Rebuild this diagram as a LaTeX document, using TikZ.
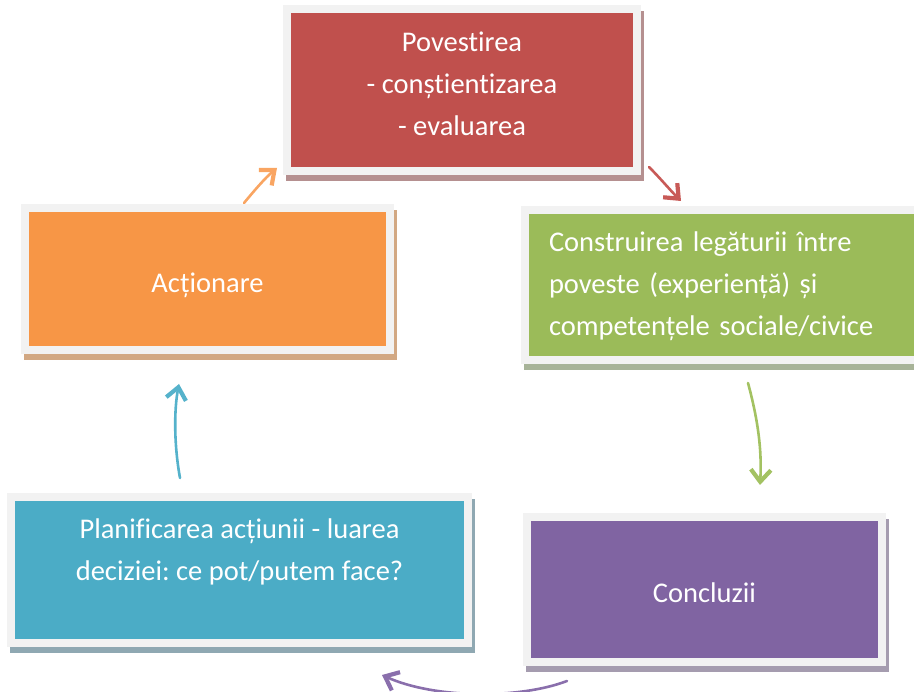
\documentclass[tikz,border=0pt]{standalone}
\usepackage{fontspec}
\setmainfont{Carlito}[Ligatures=NoCommon]
\frenchspacing
\usetikzlibrary{arrows.meta}
\definecolor{frameC}{HTML}{F2F2F2}
\definecolor{redC}{HTML}{C0504D}
\definecolor{redS}{HTML}{B59090}
\definecolor{greenC}{HTML}{9BBB59}
\definecolor{greenS}{HTML}{A7B398}
\definecolor{orangeC}{HTML}{F79646}
\definecolor{orangeS}{HTML}{D2A883}
\definecolor{blueC}{HTML}{4BACC6}
\definecolor{blueS}{HTML}{8FA8B2}
\definecolor{purpleC}{HTML}{8064A2}
\definecolor{purpleS}{HTML}{A59CAF}
\definecolor{orangeA}{HTML}{F9A562}
\definecolor{redA}{HTML}{C85A57}
\definecolor{greenA}{HTML}{A3C262}
\definecolor{blueA}{HTML}{55B2CB}
\definecolor{purpleA}{HTML}{8A6FAC}
\tikzset{
  box/.style={rectangle, inner sep=0pt, outer sep=0pt, draw=frameC, line width=8pt,
    text=white, font=\fontsize{28.5}{42}\selectfont\frenchspacing, align=center},
  shadowed/.style={preaction={draw=#1, fill=#1, line width=8pt,
    transform canvas={shift={(2.5pt,-6pt)}}}},
  arr/.style={line width=2.6pt, line cap=round,
    -{Straight Barb[length=12pt, width=20pt, line width=4.2pt]}}
}
\begin{document}
\begin{tikzpicture}[x=1pt,y=-1pt]
\useasboundingbox (0,0) rectangle (914,692);
\clip (0,0) rectangle (914,692);
% boxes
\node[box, fill=redC, shadowed=redS, minimum width=350pt, minimum height=162pt,
  text height=100pt, text depth=8pt] (povestirea) at (462,90)
  {Povestirea\\- conștientizarea\\- evaluarea};
\node[box, fill=greenC, shadowed=greenS, minimum width=410pt, minimum height=150pt,
  inner xsep=24pt, text width=362pt, align=left,
  text height=20pt, text depth=86pt] (construirea) at (730,285)
  {Construirea legăturii între\\poveste (experiență) și\\competențele sociale/civice};
\node[box, fill=orangeC, shadowed=orangeS, minimum width=365pt, minimum height=142pt,
  text height=36pt, text depth=8pt] (actionare) at (207.5,279) {Acționare};
\node[box, fill=purpleC, shadowed=purpleS, minimum width=355pt, minimum height=145pt,
  text height=35pt, text depth=8pt] (concluzii) at (704.5,589.5) {Concluzii};
\node[box, fill=blueC, shadowed=blueS, minimum width=457pt, minimum height=146pt,
  text height=30pt, text depth=8pt] (planificarea) at (239.5,570)
  {Planificarea acțiunii - luarea\\deciziei: ce pot/putem face?};
% arrow ends
\coordinate (oT) at (244,203);
\coordinate (oH) at (277,168);
\coordinate (rT) at (649,167);
\coordinate (rH) at (681,201);
\coordinate (gT) at (748,383);
\coordinate (gH) at (760,485);
\coordinate (pT) at (567,681);
\coordinate (pH) at (382,675);
\coordinate (bT) at (180,478);
\coordinate (bH) at (179,384);
% arrows
\draw[arr, orangeA] (oT) .. controls (254,191) and (265,178) .. (oH);
\draw[arr, redA] (rT) .. controls (660,178) and (670,190) .. (rH);
\draw[arr, greenA] (gT) .. controls (758,420) and (762,450) .. (gH);
\draw[arr, purpleA] (pT) .. controls (520,699) and (435,699) .. (pH);
\draw[arr, blueA] (bT) .. controls (174,445) and (174,410) .. (bH);
\end{tikzpicture}
\end{document}
